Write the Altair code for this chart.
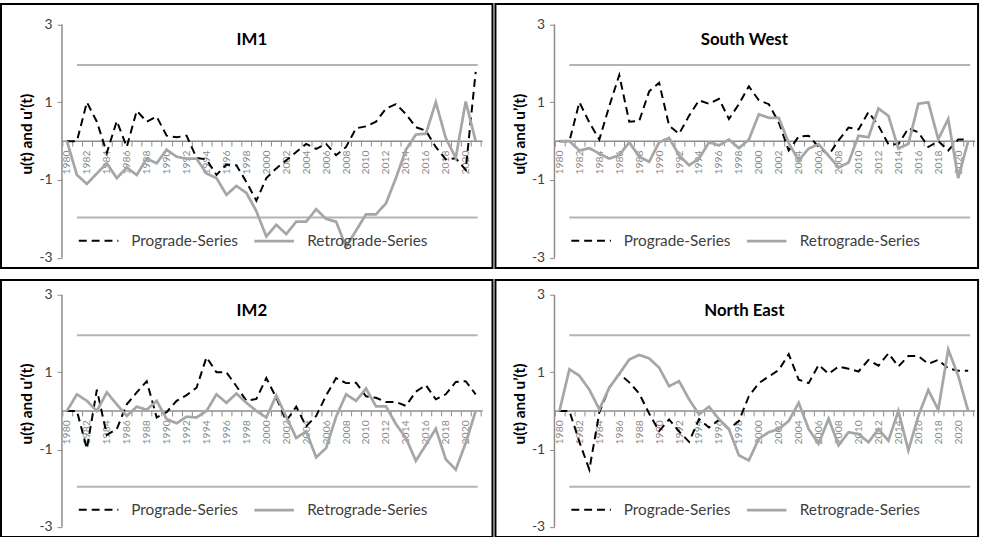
import altair as alt
import pandas as pd

# ---- data -------------------------------------------------------------
years = list(range(1980, 2022))
series_names = ["Prograde-Series", "Retrograde-Series"]
critical_levels = [1.96, -1.96]

im1_prograde = [0.0, 0.0, 1.0, 0.5, -0.3, 0.52, -0.15, 0.78, 0.5, 0.63,
                0.14, 0.1, 0.14, -0.43, -0.47, -0.87, -0.6, -0.62, -1.05, -1.53,
                -0.95, -0.7, -0.49, -0.28, -0.07, -0.2, -0.07, -0.36, -0.15, 0.33,
                0.38, 0.5, 0.84, 0.95, 0.7, 0.36, 0.27, -0.15, -0.47, -0.44,
                -0.74, 1.78]
im1_retrograde = [0.0, -0.87, -1.1, -0.83, -0.57, -0.95, -0.68, -0.87, -0.45, -0.57,
                  -0.22, -0.4, -0.45, -0.45, -0.83, -0.95, -1.38, -1.15, -1.33, -1.8,
                  -2.45, -2.15, -2.39, -2.07, -2.07, -1.75, -2.0, -2.07, -2.72, -2.3,
                  -1.88, -1.88, -1.6, -0.95, -0.22, 0.17, 0.19, 1.0, 0.08, -0.43,
                  1.02, 0.0]

sw_prograde = [0.0, 0.0, 1.0, 0.48, 0.04, 0.9, 1.7, 0.5, 0.52, 1.28,
               1.5, 0.4, 0.19, 0.65, 1.05, 0.96, 1.09, 0.57, 0.95, 1.41,
               1.05, 0.95, 0.48, -0.24, 0.12, 0.14, -0.15, -0.36, 0.02, 0.35,
               0.3, 0.75, 0.4, -0.08, -0.08, 0.33, 0.23, -0.15, 0.0, -0.24,
               0.04, 0.04]
sw_retrograde = [0.0, 0.0, -0.24, -0.18, -0.32, -0.45, -0.36, -0.03, -0.4, -0.53,
                 -0.03, 0.08, -0.36, -0.62, -0.45, -0.03, -0.11, 0.04, -0.18, 0.04,
                 0.69, 0.6, 0.6, -0.05, -0.5, -0.19, -0.08, -0.38, -0.68, -0.55,
                 0.14, 0.1, 0.84, 0.65, -0.19, -0.07, 0.96, 1.0, 0.05, 0.57,
                 -0.95, 0.0]

im2_prograde = [0.0, 0.0, -0.98, 0.55, -0.62, -0.47, 0.17, 0.48, 0.77, -0.17,
                -0.03, 0.26, 0.41, 0.6, 1.39, 1.0, 1.0, 0.64, 0.26, 0.31,
                0.85, 0.34, -0.26, 0.11, -0.4, -0.13, 0.4, 0.85, 0.72, 0.73,
                0.38, 0.34, 0.23, 0.23, 0.13, 0.5, 0.67, 0.3, 0.43, 0.75,
                0.77, 0.43]
im2_retrograde = [0.0, 0.43, 0.26, 0.0, 0.48, 0.17, -0.13, 0.11, 0.03, 0.26,
                  -0.21, -0.32, -0.15, -0.17, 0.0, 0.43, 0.21, 0.45, 0.21, 0.0,
                  -0.17, 0.4, -0.15, -0.7, -0.53, -1.2, -0.96, -0.15, 0.43, 0.26,
                  0.58, 0.12, 0.12, -0.34, -0.7, -1.29, -0.88, -0.46, -1.25, -1.52,
                  -0.83, 0.0]

ne_prograde = [0.0, 0.0, -0.8, -1.52, -0.04, 0.6, 0.96, 0.74, 0.45, -0.07,
               -0.52, -0.22, -0.53, -0.8, -0.21, -0.43, -0.23, -0.47, -0.26, 0.38,
               0.72, 0.89, 1.06, 1.47, 0.81, 0.72, 1.19, 0.96, 1.15, 1.09,
               1.02, 1.32, 1.17, 1.49, 1.15, 1.42, 1.42, 1.22, 1.32, 1.1,
               1.04, 1.04]
ne_retrograde = [0.0, 1.08, 0.91, 0.55, 0.04, 0.6, 0.96, 1.33, 1.45, 1.36,
                 1.12, 0.64, 0.77, 0.3, -0.09, 0.11, -0.21, -0.47, -1.15, -1.28,
                 -0.72, -0.55, -0.47, -0.26, 0.21, -0.47, -0.85, -0.2, -0.89, -0.55,
                 -0.6, -0.81, -0.47, -0.77, 0.0, -1.02, -0.13, 0.54, 0.03, 1.59,
                 0.91, 0.0]

# ---- styling ----------------------------------------------------------
FONT = "Lato"
AXIS_GRAY = "#8c8c8c"
SERIES_GRAY = "#a6a6a6"
TEXT_DARK = "#404040"
PX_PER_YEAR = 10.08
LEGEND_SYMBOL = 40


def one_row():
    return alt.Data(values=[{}])


def panel(title, prograde, retrograde, width, height, x1980, y_top3, y_bot3):
    """One framed Mann-Kendall panel; positions are in pixels of the panel."""
    unit = (y_bot3 - y_top3) / 6.0
    y_zero = y_top3 + 3 * unit
    x_lo = 1980 - x1980 / PX_PER_YEAR
    x_hi = x_lo + width / PX_PER_YEAR
    y_hi = 3 + y_top3 / unit
    y_lo = y_hi - height / unit

    x_scale = alt.Scale(domain=[x_lo, x_hi], nice=False, zero=False)
    y_scale = alt.Scale(domain=[y_lo, y_hi], nice=False, zero=False)

    first, last = years[0], years[-1]
    bounds = [y - 0.5 for y in years] + [last + 0.5]

    # the same axis objects go on every layer so the shared axes merge cleanly
    x_axis = alt.Axis(
        values=bounds, title=None, grid=False, domain=False,
        orient="bottom", offset=-(height - y_zero),
        ticks=True, tickSize=5, tickColor=AXIS_GRAY, tickWidth=1,
        labelAngle=270, labelOffset=PX_PER_YEAR / 2, labelPadding=4,
        labelExpr=f"((datum.value + 0.5) % 2 == 0 && datum.value < {last}) ? '' + (datum.value + 0.5) : ''",
        labelOverlap=False, labelFlush=False, labelBound=False,
        labelFont=FONT, labelFontSize=10.5, labelColor="#8a8a8a",
    )
    y_axis = alt.Axis(
        values=[-3, -1, 1, 3], title=None, grid=False, domain=False,
        orient="left", offset=-(x1980 - PX_PER_YEAR / 2),
        tickSize=5, tickColor=AXIS_GRAY, tickWidth=1,
        labelPadding=5, labelExpr="'' + datum.value", labelOverlap=False,
        labelFlush=False, labelBound=False,
        labelFont=FONT, labelFontSize=14, labelColor=TEXT_DARK,
    )

    legend = alt.Legend(
        orient="none", legendX=x1980 + 11,
        legendY=y_bot3 - 18.5 - LEGEND_SYMBOL / 2,
        direction="horizontal", title=None, padding=0,
        symbolType="stroke", symbolSize=LEGEND_SYMBOL ** 2, symbolStrokeWidth=2,
        labelFont=FONT, labelFontSize=15.5, labelColor=TEXT_DARK,
        labelOffset=12, columnPadding=11,
    )

    df = pd.DataFrame({
        "year": years * 2,
        "value": prograde + retrograde,
        "series": [series_names[0]] * len(years) + [series_names[1]] * len(years),
    })

    zero_line = alt.Chart(one_row()).mark_rule(color=AXIS_GRAY, strokeWidth=1.5).encode(
        x=alt.XDatum(first - 0.5, scale=x_scale, axis=x_axis),
        x2=alt.datum(last + 0.7),
        y=alt.YDatum(0, scale=y_scale, axis=y_axis),
    )
    y_line = alt.Chart(one_row()).mark_rule(color=AXIS_GRAY, strokeWidth=1.5).encode(
        x=alt.XDatum(first - 0.5, scale=x_scale, axis=x_axis),
        y=alt.YDatum(-3, scale=y_scale, axis=y_axis),
        y2=alt.datum(3),
    )
    crit = alt.Chart(pd.DataFrame({"level": critical_levels})).mark_rule(
        color="#b4b4b4", strokeWidth=2
    ).encode(
        x=alt.XDatum(first + 1, scale=x_scale, axis=x_axis),
        x2=alt.datum(last + 0.2),
        y=alt.Y("level:Q", scale=y_scale, axis=y_axis),
    )

    lines = alt.Chart(df).mark_line().encode(
        x=alt.X("year:Q", scale=x_scale, axis=x_axis),
        y=alt.Y("value:Q", scale=y_scale, axis=y_axis),
        color=alt.Color("series:N", scale=alt.Scale(domain=series_names,
                                                    range=["#000000", SERIES_GRAY]),
                        legend=legend),
        strokeDash=alt.StrokeDash("series:N", scale=alt.Scale(domain=series_names,
                                                              range=[[8, 5], [1, 0]]),
                                  legend=legend),
        strokeWidth=alt.StrokeWidth("series:N", scale=alt.Scale(domain=series_names,
                                                                range=[2, 2.75]),
                                    legend=None),
        order="year:Q",
    )

    title_text = alt.Chart(one_row()).mark_text(
        text=title, font=FONT, fontSize=17, fontWeight="bold", color="#000000",
        align="center", baseline="middle",
    ).encode(x=alt.value(x1980 + 187), y=alt.value(y_top3 + 16))

    y_title = alt.Chart(one_row()).mark_text(
        text="u(t) and u’(t)", font=FONT, fontSize=15.5, fontWeight="bold",
        color="#000000", angle=270, align="center", baseline="middle",
    ).encode(x=alt.value(x1980 - 40), y=alt.value(y_zero - 7))

    return alt.layer(zero_line, y_line, crit, lines, title_text, y_title).properties(
        width=width, height=height
    )


LEFT_W, RIGHT_W = 497, 488
TOP_H, BOTTOM_H = 267, 260

p_im1 = panel("IM1", im1_prograde, im1_retrograde, LEFT_W, TOP_H, 66.7, 20.7, 256.7)
p_sw = panel("South West", sw_prograde, sw_retrograde, RIGHT_W, TOP_H, 64.7, 20.7, 256.7)
p_im2 = panel("IM2", im2_prograde, im2_retrograde, LEFT_W, BOTTOM_H, 66.7, 15.3, 249.7)
p_ne = panel("North East", ne_prograde, ne_retrograde, RIGHT_W, BOTTOM_H, 64.7, 15.3, 249.7)


def independent(c):
    return c.resolve_scale(color="independent", strokeDash="independent",
                           strokeWidth="independent").resolve_legend(
        color="independent", strokeDash="independent", strokeWidth="independent")


top = independent(alt.hconcat(p_im1, p_sw, spacing=1))
bottom = independent(alt.hconcat(p_im2, p_ne, spacing=1))

chart = independent(alt.vconcat(top, bottom, spacing=10)).properties(
    padding=0, background="white"
).configure_view(
    stroke="#000000", strokeWidth=2
).configure_axis(
    labelOverlap=False
).configure_text(font=FONT)

chart.save("out.html", embed_options={"renderer": "svg", "actions": False})
